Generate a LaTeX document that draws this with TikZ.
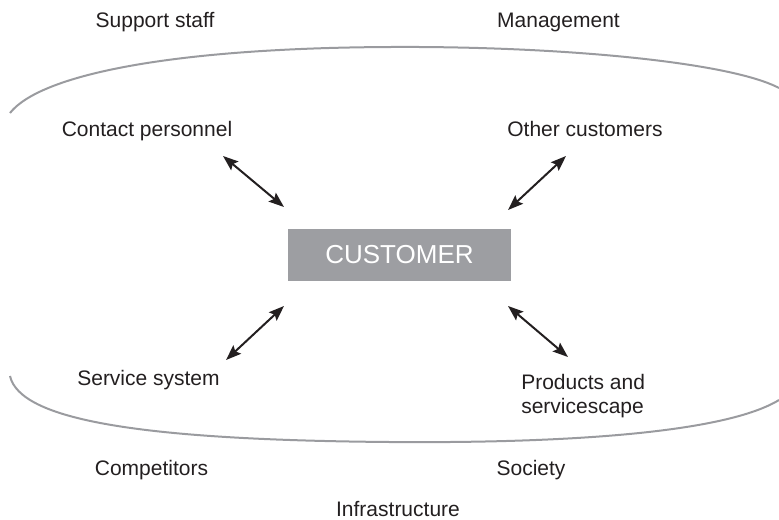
\documentclass[tikz,border=0pt]{standalone}
\usepackage{fontspec}
\setmainfont{Liberation Sans}
\usepackage{xcolor}
\usetikzlibrary{arrows.meta}

\definecolor{rimgrey}{RGB}{154,155,159}
\definecolor{boxgrey}{RGB}{157,158,162}
\definecolor{inkgrey}{RGB}{35,31,32}

\tikzset{
  label text/.style={inner sep=0.75pt, text=inkgrey, font=\fontsize{15.75}{18}\selectfont},
  two way/.style={{Stealth[length=11.5pt,width=8.5pt,inset=2pt]}-{Stealth[length=11.5pt,width=8.5pt,inset=2pt]}, line width=1.5pt, color=inkgrey}
}

\begin{document}
\begin{tikzpicture}[x=0.75pt,y=0.75pt,yscale=-1,xscale=1]
            \useasboundingbox (0,0) rectangle (779,519);

            %Curve Lines [id:rim_top]
            \draw [color=rimgrey, line width=1.5pt]   (10,113) .. controls (40,75) and (170,48) .. (390,47) .. controls (560,46) and (730,62) .. (779,88) ;
            %Curve Lines [id:rim_bottom]
            \draw [color=rimgrey, line width=1.5pt]   (10,376) .. controls (20,420) and (140,440) .. (390,442) .. controls (540,443.2) and (720,436) .. (779,400) ;

            %Shape: Rectangle [id:customer]
            \node (customer) at (399.5,255) [fill=boxgrey, inner sep=0pt, minimum width=167.25pt, minimum height=39pt, text=white, font=\fontsize{19.5}{22}\selectfont] {CUSTOMER};

            % Text Node
            \node (support) at (155,27) [anchor=base, label text] {Support staff};
            % Text Node
            \node (management) at (558.5,27) [anchor=base, label text] {Management};
            % Text Node
            \node (contact) at (147,136) [anchor=base, label text] {Contact personnel};
            % Text Node
            \node (others) at (585,136) [anchor=base, label text] {Other customers};
            % Text Node
            \node (system) at (148.5,385) [anchor=base, label text] {Service system};
            % Text Node
            \node (products) at (521,374) [anchor=north west, label text, inner sep=0pt, align=left] {Products and\\servicescape};
            % Text Node
            \node (competitors) at (151.5,475) [anchor=base, label text] {Competitors};
            % Text Node
            \node (society) at (531,475) [anchor=base, label text] {Society};
            % Text Node
            \node (infra) at (398,516) [anchor=base, label text] {Infrastructure};

            %Straight Lines [id:arrow ends]
            \coordinate (cp) at (223,156);  \coordinate (cpc) at (284,207);
            \coordinate (oc) at (566,156);  \coordinate (occ) at (508,210);
            \coordinate (ss) at (226,360);  \coordinate (ssc) at (284,306);
            \coordinate (ps) at (568,357);  \coordinate (psc) at (508,306);
            \draw [two way]   (cp) -- (cpc) ;
            \draw [two way]   (oc) -- (occ) ;
            \draw [two way]   (ssc) -- (ss) ;
            \draw [two way]   (psc) -- (ps) ;
\end{tikzpicture}
\end{document}
